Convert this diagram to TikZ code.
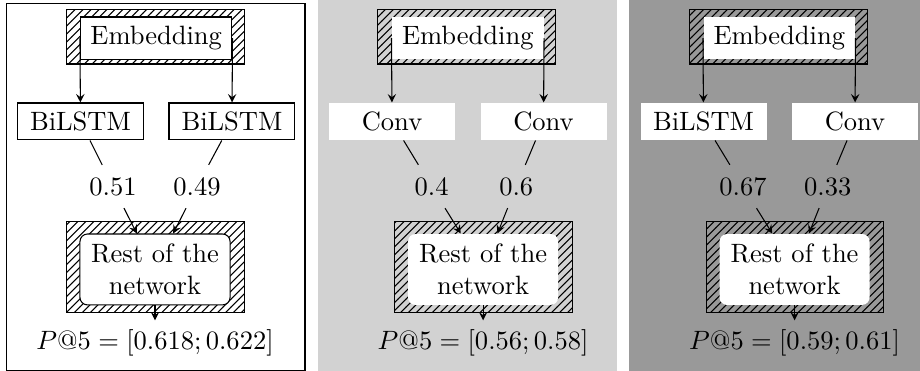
\documentclass[tikz,border=0pt]{standalone}
\usetikzlibrary{patterns}

\tikzstyle{embhatch} = [draw, pattern=north east lines, minimum width=2.36cm, minimum height=0.716cm]
\tikzstyle{resthatch} = [draw, pattern=north east lines, minimum width=2.35cm, minimum height=1.2cm]
\tikzstyle{embbox} = [fill=white, minimum width=2.008cm, minimum height=0.563cm]
\tikzstyle{layer} = [fill=white, minimum width=1.67cm, minimum height=0.464cm]
\tikzstyle{restbox} = [fill=white, rounded corners=0.1cm, align=center, minimum width=1.99cm, minimum height=0.94cm]
\tikzstyle{weight} = [inner sep=4.5pt]

\begin{document}
\begin{tikzpicture}[>=stealth]
	\useasboundingbox (0,0) rectangle (12.196,4.918);
	% backgrounds
	\draw[fill=white] (0.089,0.009) rectangle (4.043,4.875);
	\fill[gray!35] (4.212,0) rectangle (8.176,4.918);
	\fill[gray!80] (8.343,0) rectangle (12.196,4.918);

	% BiLSTM + BiLSTM
	\node[embhatch] (embbg1) at (2.059,4.428) {};
	\node[embbox,draw] (emb1) at (2.071,4.411) {Embedding};
	\node[layer,draw] (left1) at (1.067,3.308) {BiLSTM};
	\node[layer,draw] (right1) at (3.075,3.308) {BiLSTM};
	\node[weight] (wl1) at (1.498,2.446) {0.51};
	\node[weight] (wr1) at (2.612,2.446) {0.49};
	\node[resthatch] (restbg1) at (2.061,1.379) {};
	\node[restbox,draw] (rest1) at (2.055,1.346) {Rest of the\\network};
	\node (p1) at (2.055,0.371) {$P@5 = [0.618; 0.622]$};
	\draw[->] (emb1.west) -- (left1);
	\draw[->] (emb1.east) -- (right1);
	\draw (left1) -- (wl1);
	\draw (right1) -- (wr1);
	\draw[->] (wl1) -- (rest1);
	\draw[->] (wr1) -- (rest1);
	\draw[->] (rest1) -- (p1);

	% Conv + Conv
	\begin{scope}[xshift=4.13cm]
	\node[embhatch] (embbg2) at (2.059,4.428) {};
	\node[embbox] (emb2) at (2.071,4.411) {Embedding};
	\node[layer] (left2) at (1.067,3.308) {Conv};
	\node[layer] (right2) at (3.075,3.308) {Conv};
	\node[weight] (wl2) at (1.591,2.446) {0.4};
	\node[weight] (wr2) at (2.714,2.446) {0.6};
	\node[resthatch] (restbg2) at (2.28,1.379) {};
	\node[restbox] (rest2) at (2.274,1.346) {Rest of the\\network};
	\node (p2) at (2.274,0.371) {$P@5 = [0.56; 0.58]$};
	\draw[->] (emb2.west) -- (left2);
	\draw[->] (emb2.east) -- (right2);
	\draw (left2) -- (wl2);
	\draw (right2) -- (wr2);
	\draw[->] (wl2) -- (rest2);
	\draw[->] (wr2) -- (rest2);
	\draw[->] (rest2) -- (p2);
	\end{scope}

	% BiLSTM + Conv
	\begin{scope}[xshift=8.259cm]
	\node[embhatch] (embbg3) at (2.059,4.428) {};
	\node[embbox] (emb3) at (2.071,4.411) {Embedding};
	\node[layer] (left3) at (1.067,3.308) {BiLSTM};
	\node[layer] (right3) at (3.075,3.308) {Conv};
	\node[weight] (wl3) at (1.591,2.446) {0.67};
	\node[weight] (wr3) at (2.714,2.446) {0.33};
	\node[resthatch] (restbg3) at (2.28,1.379) {};
	\node[restbox] (rest3) at (2.274,1.346) {Rest of the\\network};
	\node (p3) at (2.274,0.371) {$P@5 = [0.59; 0.61]$};
	\draw[->] (emb3.west) -- (left3);
	\draw[->] (emb3.east) -- (right3);
	\draw (left3) -- (wl3);
	\draw (right3) -- (wr3);
	\draw[->] (wl3) -- (rest3);
	\draw[->] (wr3) -- (rest3);
	\draw[->] (rest3) -- (p3);
	\end{scope}
\end{tikzpicture}
\end{document}
